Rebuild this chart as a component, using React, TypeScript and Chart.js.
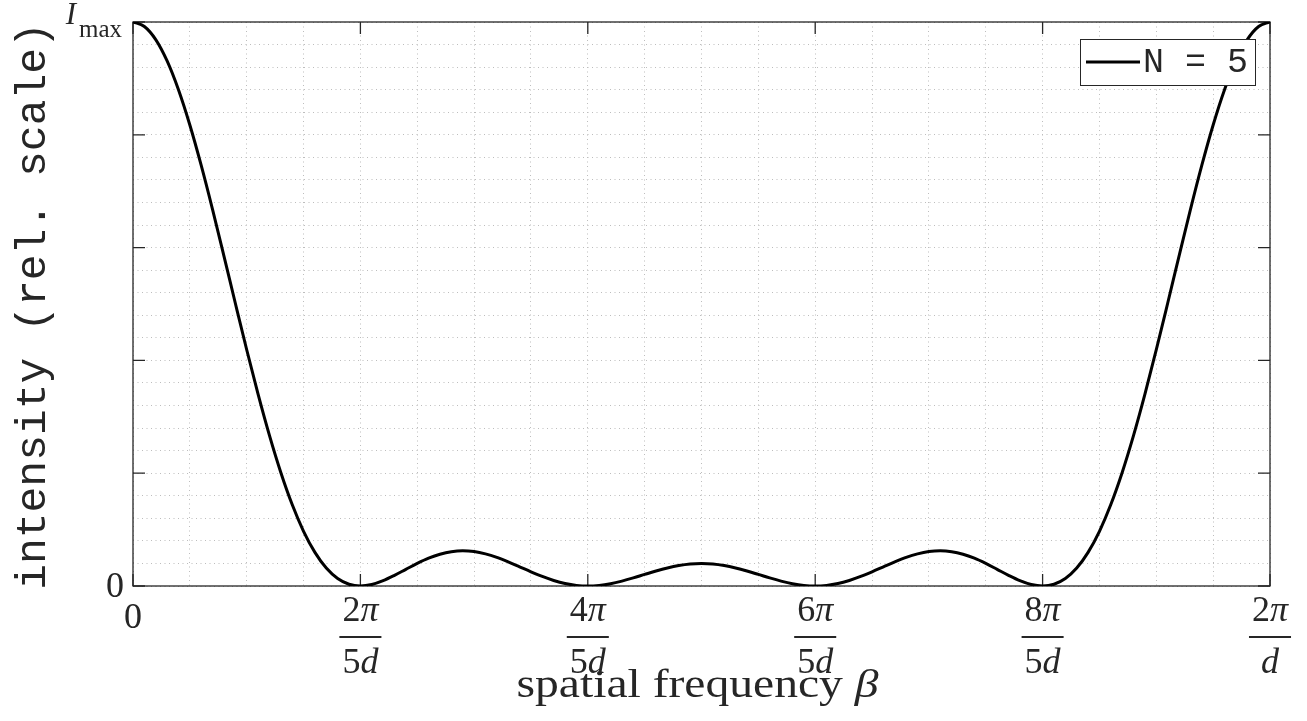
import React, { useEffect, useRef } from "react";
import { Chart, registerables } from "chart.js";

Chart.register(...registerables);

// Intensity samples (relative scale), evenly spaced over beta from 0 to 2π/d
const intensity = [
  1, 0.9921, 0.9688, 0.9309, 0.8798, 0.8173, 0.7456, 0.6673, 0.585, 0.5013,
  0.4189, 0.3401, 0.267, 0.2013, 0.1444, 0.097, 0.0596, 0.0318, 0.0133, 0.0031,
  0, 0.0026, 0.0094, 0.0189, 0.0295, 0.04, 0.0493, 0.0564, 0.0609, 0.0625,
  0.0611, 0.057, 0.0508, 0.0429, 0.0341, 0.0252, 0.0169, 0.0098, 0.0044, 0.0011,
  0, 0.0011, 0.0041, 0.0087, 0.0143, 0.0205, 0.0266, 0.032, 0.0363, 0.0391,
  0.04, 0.0391, 0.0363, 0.032, 0.0266, 0.0205, 0.0143, 0.0087, 0.0041, 0.0011,
  0, 0.0011, 0.0044, 0.0098, 0.0169, 0.0252, 0.0341, 0.0429, 0.0508, 0.057,
  0.0611, 0.0625, 0.0609, 0.0564, 0.0493, 0.04, 0.0295, 0.0189, 0.0094, 0.0026,
  0, 0.0031, 0.0133, 0.0318, 0.0596, 0.097, 0.1444, 0.2013, 0.267, 0.3401,
  0.4189, 0.5013, 0.585, 0.6673, 0.7456, 0.8173, 0.8798, 0.9309, 0.9688, 0.9921,
  1,
];

const xMajorTicks = [0, 0.2, 0.4, 0.6, 0.8, 1];
const xTickNumerators = ["0", "2π", "4π", "6π", "8π", "2π"];
const xTickDenominators = ["", "5d", "5d", "5d", "5d", "d"];
const yMajorTicks = [0, 0.2, 0.4, 0.6, 0.8, 1];
const yTickLabels = ["0", "", "", "", "", "I_max"];
const seriesLabel = "N = 5";
const xTitleText = "spatial frequency ";
const xTitleSymbol = "β";
const yTitleText = "intensity (rel. scale)";

const TEXT = "#262626";
const SERIF = '"Liberation Serif", "DejaVu Serif", serif';
const MONO = '"Liberation Mono", "DejaVu Sans Mono", monospace';

type Run = { t: string; it: boolean };
const toRuns = (s: string): Run[] =>
  Array.from(s).map((c) => ({ t: c, it: /[a-zA-Zπβ]/.test(c) }));

function drawRuns(
  ctx: CanvasRenderingContext2D,
  runs: Run[],
  cx: number,
  baseline: number,
  size: number,
  targetWidth?: number
) {
  const widths = runs.map((r) => {
    ctx.font = `${r.it ? "italic " : ""}${size}px ${SERIF}`;
    return ctx.measureText(r.t).width;
  });
  const total = widths.reduce((a, b) => a + b, 0);
  const sx = targetWidth ? targetWidth / total : 1;
  ctx.save();
  ctx.translate(cx, baseline);
  ctx.scale(sx, 1);
  let x = -total / 2;
  ctx.textAlign = "left";
  ctx.textBaseline = "alphabetic";
  runs.forEach((r, i) => {
    ctx.font = `${r.it ? "italic " : ""}${size}px ${SERIF}`;
    ctx.fillText(r.t, x, 0);
    x += widths[i];
  });
  ctx.restore();
  return total * sx;
}

const decorPlugin = {
  id: "decor",
  beforeDatasetsDraw(chart: any) {
    const { ctx, chartArea: a, scales } = chart;
    const x = scales.x;
    const y = scales.y;
    ctx.save();
    ctx.strokeStyle = TEXT;
    ctx.lineWidth = 1.3;
    ctx.strokeRect(a.left, a.top, a.right - a.left, a.bottom - a.top);
    const tl = 12;
    ctx.beginPath();
    xMajorTicks.forEach((v) => {
      const px = x.getPixelForValue(v);
      ctx.moveTo(px, a.bottom);
      ctx.lineTo(px, a.bottom - tl);
      ctx.moveTo(px, a.top);
      ctx.lineTo(px, a.top + tl);
    });
    yMajorTicks.forEach((v) => {
      const py = y.getPixelForValue(v);
      ctx.moveTo(a.left, py);
      ctx.lineTo(a.left + tl, py);
      ctx.moveTo(a.right, py);
      ctx.lineTo(a.right - tl, py);
    });
    ctx.stroke();
    ctx.restore();
  },
  afterDatasetsDraw(chart: any) {
    const { ctx, chartArea: a, scales } = chart;
    const x = scales.x;
    const y = scales.y;
    ctx.save();
    // legend
    const lw = 175, lh = 46;
    const lx = a.right - 15 - lw;
    const ly = a.top + 17;
    ctx.fillStyle = "#ffffff";
    ctx.fillRect(lx, ly, lw, lh);
    ctx.strokeStyle = "#262626";
    ctx.lineWidth = 1;
    ctx.strokeRect(lx + 0.5, ly + 0.5, lw, lh);
    ctx.strokeStyle = "#000";
    ctx.lineWidth = 3;
    ctx.beginPath();
    ctx.moveTo(lx + 6, ly + lh / 2);
    ctx.lineTo(lx + 60, ly + lh / 2);
    ctx.stroke();
    ctx.fillStyle = TEXT;
    ctx.font = `35px ${MONO}`;
    ctx.textAlign = "left";
    ctx.textBaseline = "middle";
    ctx.fillText(seriesLabel, lx + 63, ly + lh / 2 + 1);

    // x tick labels
    ctx.fillStyle = TEXT;
    xMajorTicks.forEach((v, i) => {
      const px = x.getPixelForValue(v);
      const num = xTickNumerators[i];
      const den = xTickDenominators[i];
      if (!den) {
        drawRuns(ctx, toRuns(num), px, a.bottom + 42, 36);
        return;
      }
      const w1 = drawRuns(ctx, toRuns(num), px, a.bottom + 35, 36);
      const w2 = drawRuns(ctx, toRuns(den), px, a.bottom + 87, 36);
      const bw = Math.max(w1, w2) + 6;
      ctx.fillRect(px - bw / 2, a.bottom + 50, bw, 2);
    });

    // y tick labels
    yMajorTicks.forEach((v, i) => {
      const lab = yTickLabels[i];
      if (!lab) return;
      const py = y.getPixelForValue(v);
      ctx.textAlign = "right";
      ctx.textBaseline = "alphabetic";
      if (lab === "I_max") {
        ctx.font = `25px ${SERIF}`;
        const mw = ctx.measureText("max").width;
        ctx.fillText("max", a.left - 11, py + 15);
        ctx.font = `italic 31px ${SERIF}`;
        ctx.fillText("I", a.left - 11 - mw - 3, py + 2);
      } else {
        ctx.font = `36px ${SERIF}`;
        ctx.fillText(lab, a.left - 9, py + 11);
      }
    });

    // x title
    const cx = (a.left + a.right) / 2 - 4;
    drawRuns(
      ctx,
      [
        ...Array.from(xTitleText).map((c) => ({ t: c, it: false })),
        { t: xTitleSymbol, it: true },
      ],
      cx,
      a.bottom + 111,
      39,
      362
    );

    // y title
    ctx.save();
    ctx.translate(45, (a.top + a.bottom) / 2 + 2);
    ctx.rotate(-Math.PI / 2);
    ctx.font = `43px ${MONO}`;
    ctx.textAlign = "center";
    ctx.textBaseline = "alphabetic";
    ctx.fillText(yTitleText, 0, 0);
    ctx.restore();

    ctx.restore();
  },
};

export default function App() {
  const ref = useRef<HTMLCanvasElement | null>(null);
  useEffect(() => {
    document.body.style.margin = "0";
    const canvas = ref.current;
    if (!canvas) return;
    const chart = new Chart(canvas, {
      type: "line",
      data: {
        datasets: [
          {
            label: seriesLabel,
            data: intensity.map((v, i) => ({ x: i / (intensity.length - 1), y: v })),
            borderColor: "#000000",
            borderWidth: 3,
            pointRadius: 0,
            cubicInterpolationMode: "monotone",
            fill: false,
          },
        ],
      },
      options: {
        responsive: false,
        animation: false,
        events: [],
        layout: { padding: { left: 133, right: 37, top: 22, bottom: 135 } },
        plugins: {
          legend: { display: false },
          tooltip: { enabled: false },
          title: { display: false },
        },
        scales: {
          x: {
            type: "linear",
            min: 0,
            max: 1,
            ticks: { display: false, stepSize: 0.05 },
            grid: { color: "#bdbdbd", lineWidth: 1, drawTicks: false },
            border: { display: false, dash: [1, 3.5] },
          },
          y: {
            type: "linear",
            min: 0,
            max: 1,
            ticks: { display: false, stepSize: 0.04 },
            grid: { color: "#bdbdbd", lineWidth: 1, drawTicks: false },
            border: { display: false, dash: [1, 3.5] },
          },
        },
      },
      plugins: [decorPlugin],
    } as any);
    return () => chart.destroy();
  }, []);
  return (
    <canvas
      ref={ref}
      width={1307}
      height={721}
      style={{ display: "block", width: "1307px", height: "721px" }}
    />
  );
}
